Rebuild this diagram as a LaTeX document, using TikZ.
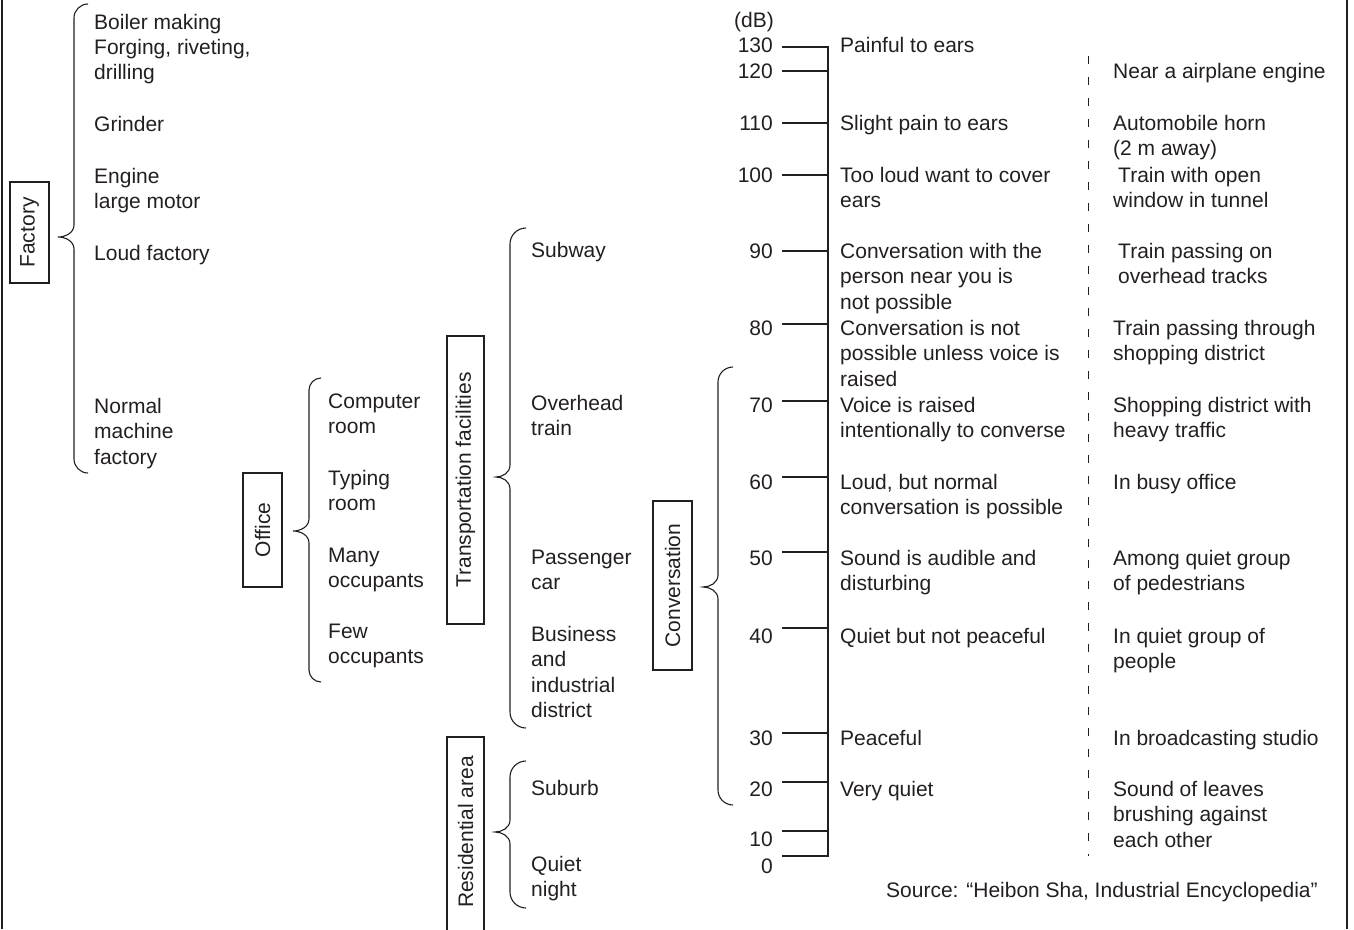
\documentclass[tikz,border=0pt]{standalone}
\usepackage{fontspec}
\setmainfont{Liberation Sans}
\definecolor{ink}{RGB}{35,31,32}
\newcommand\drawbrace[6]{% #1 x end, #2 x straight, #3 x tip, #4 y top, #5 y tip, #6 y bottom
  \draw[braceline] (#1,#4) .. controls ({#2+0.45*(#1-#2)},#4) and (#2,{#4+0.45*(#1-#2)}) .. (#2,{#4+(#1-#2)})
    -- (#2,#5-12) .. controls (#2,#5-4) and ({#3+0.45*(#2-#3)},#5) .. (#3,#5)
    .. controls ({#3+0.45*(#2-#3)},#5) and (#2,#5+4) .. (#2,#5+12)
    -- (#2,{#6-(#1-#2)}) .. controls (#2,{#6-0.45*(#1-#2)}) and ({#2+0.45*(#1-#2)},#6) .. (#1,#6);}
\begin{document}
\begin{tikzpicture}[x=1pt,y=-1pt,
  every node/.style={text=ink},
  txt/.style={anchor=base west, inner sep=0pt, align=left, font=\fontsize{21}{25.5}\selectfont},
  num/.style={anchor=base east, inner sep=0pt, font=\fontsize{21}{25.5}\selectfont},
  catbox/.style={draw=ink, line width=1.1pt, rotate=90, inner sep=0pt, font=\fontsize{21}{25.5}\selectfont},
  braceline/.style={draw=ink, line width=1.1pt},
  scaleline/.style={draw=ink, line width=1.1pt},
  frame/.style={draw=ink, line width=1.1pt}]
\useasboundingbox (0,0) rectangle (1354,929);
% side frame lines
\draw[frame] (2,0) -- (2,929);
\draw[frame] (1347,0) -- (1347,929);

% ---------- Factory ----------
\node[catbox, minimum width=101pt, minimum height=39pt] (factory) at (29.5,232.5) {Factory};
\drawbrace{88}{74}{58}{4}{237}{473}
\node[txt] (f1) at (94,29) {Boiler making};
\node[txt] (f2) at (94,79.5) {Forging, riveting,\\drilling};
\node[txt] (f3) at (94,131) {Grinder};
\node[txt] (f4) at (94,208.5) {Engine\\large motor};
\node[txt] (f5) at (94,260) {Loud factory};
\node[txt] (f6) at (94,464) {Normal\\machine\\factory};

% ---------- Office ----------
\node[catbox, minimum width=114pt, minimum height=39pt] (office) at (262.5,530) {Office};
\drawbrace{321}{309}{293}{378}{531}{682}
\node[txt] (o1) at (328,433.5) {Computer\\room};
\node[txt] (o2) at (328,510.5) {Typing\\room};
\node[txt] (o3) at (328,587.5) {Many\\occupants};
\node[txt] (o4) at (328,663.5) {Few\\occupants};

% ---------- Transportation ----------
\node[catbox, minimum width=288pt, minimum height=37pt] (transport) at (465.5,480) {Transportation facilities};
\drawbrace{526}{510}{496}{228}{477}{728}
\node[txt] (t1) at (531,257) {Subway};
\node[txt] (t2) at (531,435.5) {Overhead\\train};
\node[txt] (t3) at (531,589.5) {Passenger\\car};
\node[txt] (t4) at (531,717.5) {Business\\and\\industrial\\district};

% ---------- Residential ----------
\draw[frame] (447,945) -- (447,737) -- (484,737) -- (484,945);
\node[rotate=90, inner sep=0pt, font=\fontsize{21}{25.5}\selectfont] (resid) at (465.5,832) {Residential area};
\drawbrace{526}{510}{495}{761}{832}{908}
\node[txt] (r1) at (531,795) {Suburb};
\node[txt] (r2) at (531,896.5) {Quiet\\night};

% ---------- Conversation ----------
\node[catbox, minimum width=169pt, minimum height=39pt] (conv) at (672.5,585.5) {Conversation};
\drawbrace{733}{718}{703}{367}{587}{805}

% ---------- dB scale ----------
\node[num] (db) at (774,27) {(dB)};
\draw[scaleline] (782,47) -- (828,47) -- (828,856) -- (782,856);
\foreach \yy in {71,123,175,251,324,401,477,552,628,733,782,831}
  \draw[scaleline] (782,\yy) -- (828,\yy);
\node[num] (n130) at (773,52) {130};
\node[num] (n120) at (773,78) {120};
\node[num] (n110) at (773,130) {110};
\node[num] (n100) at (773,182) {100};
\node[num] (n90) at (773,258) {90};
\node[num] (n80) at (773,335) {80};
\node[num] (n70) at (773,412) {70};
\node[num] (n60) at (773,489) {60};
\node[num] (n50) at (773,565) {50};
\node[num] (n40) at (773,643) {40};
\node[num] (n30) at (773,745) {30};
\node[num] (n20) at (773,796) {20};
\node[num] (n10) at (773,846) {10};
\node[num] (n0) at (773,873) {0};

% ---------- descriptions ----------
\node[txt] (d130) at (840,52) {Painful to ears};
\node[txt] (d110) at (840,130) {Slight pain to ears};
\node[txt] (d100) at (840,207.5) {Too loud want to cover\\ears};
\node[txt] (d90) at (840,309) {Conversation with the\\person near you is\\not possible};
\node[txt] (d80) at (840,386) {Conversation is not\\possible unless voice is\\raised};
\node[txt] (d70) at (840,437.5) {Voice is raised\\intentionally to converse};
\node[txt] (d60) at (840,514.5) {Loud, but normal\\conversation is possible};
\node[txt] (d50) at (840,590.5) {Sound is audible and\\disturbing};
\node[txt] (d40) at (840,643) {Quiet but not peaceful};
\node[txt] (d30) at (840,745) {Peaceful};
\node[txt] (d20) at (840,796) {Very quiet};

% ---------- dashed divider ----------
\draw[draw=ink, line width=1pt, dash pattern=on 8pt off 13pt] (1088,56) -- (1088,856);

% ---------- examples ----------
\node[txt] (e120) at (1113,78) {Near a airplane engine};
\node[txt] (e110) at (1113,155.5) {Automobile horn\\(2 m away)};
\node[txt] (e100) at (1113,207.5) {\hspace*{5pt}Train with open\\window in tunnel};
\node[txt] (e90) at (1113,283.5) {\hspace*{5pt}Train passing on\\\hspace*{5pt}overhead tracks};
\node[txt] (e80) at (1113,360.5) {Train passing through\\shopping district};
\node[txt] (e70) at (1113,437.5) {Shopping district with\\heavy traffic};
\node[txt] (e60) at (1113,489) {In busy office};
\node[txt] (e50) at (1113,590.5) {Among quiet group\\of pedestrians};
\node[txt] (e40) at (1113,668.5) {In quiet group of\\people};
\node[txt] (e30) at (1113,745) {In broadcasting studio};
\node[txt] (e20) at (1113,847) {Sound of leaves\\brushing against\\each other};

\node[txt] (source) at (886,897) {Source: “Heibon Sha, Industrial Encyclopedia”};
\end{tikzpicture}
\end{document}
